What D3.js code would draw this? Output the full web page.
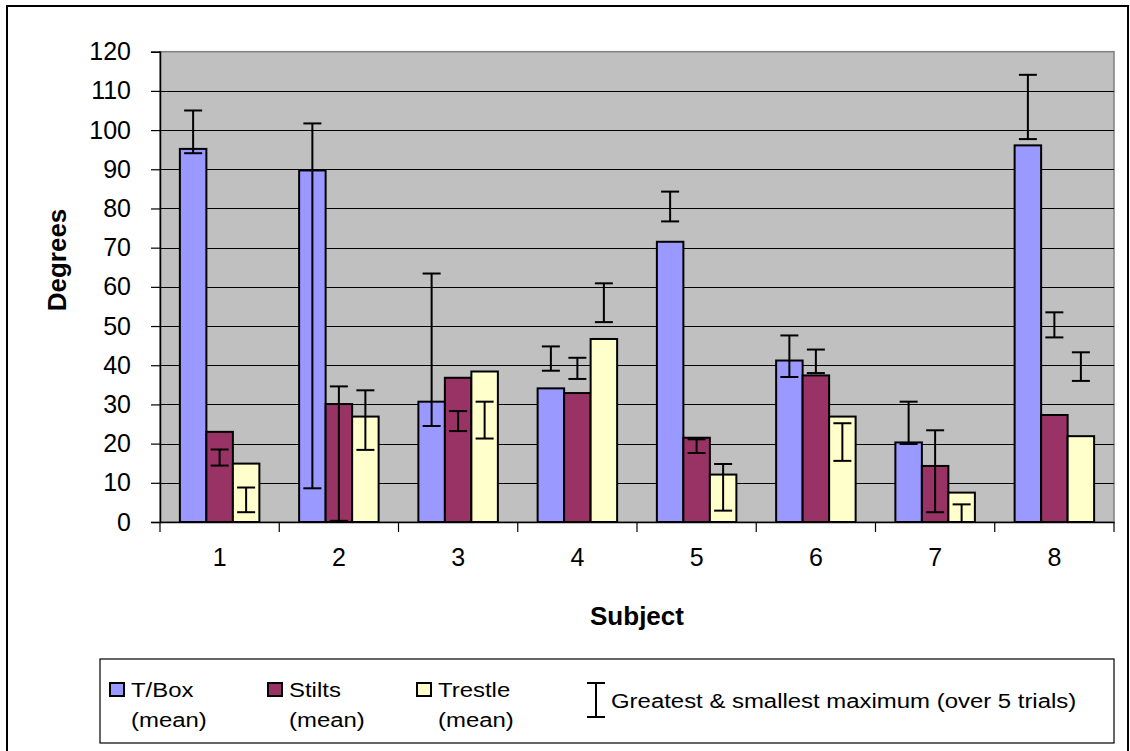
<!DOCTYPE html>
<html><head><meta charset="utf-8">
<script src="https://cdn.jsdelivr.net/npm/d3@7"></script>
<style>
body{margin:0;background:#fff;}
text{font-family:Arial,"Liberation Sans",sans-serif;fill:#000;}
</style>
</head><body>
<svg id="chart" width="1130" height="751"></svg>
<script>
// ---- data ----
const categories = ["1","2","3","4","5","6","7","8"];
const seriesNames = ["T/Box","Stilts","Trestle"];
const tboxMean    = [95.2, 89.7, 30.7, 34.1, 71.5, 41.2, 20.3, 96.1];
const stiltsMean  = [23.0, 30.1, 36.8, 32.9, 21.5, 37.4, 14.3, 27.3];
const trestleMean = [14.9, 26.9, 38.4, 46.7, 12.1, 26.9,  7.5, 21.9];
const tboxHigh    = [105.0,101.7, 63.4, 44.8, 84.3, 47.6, 30.7,114.1];
const tboxLow     = [ 94.1,  8.6, 24.5, 38.6, 76.7, 37.0, 19.9, 97.7];
const stiltsHigh  = [ 18.5, 34.6, 28.3, 41.9, 21.1, 44.0, 23.4, 53.5];
const stiltsLow   = [ 14.4,  0.3, 23.2, 36.5, 17.6, 38.0,  2.5, 47.1];
const trestleHigh = [  8.8, 33.6, 30.7, 60.9, 14.8, 25.2,  4.5, 43.3];
const trestleLow  = [  2.5, 18.4, 21.3, 51.0,  2.9, 15.6,  0.0, 36.0];
const yTickValues = [0,10,20,30,40,50,60,70,80,90,100,110,120];
const legendLine1 = ["T/Box","Stilts","Trestle"];
const legendLine2 = ["(mean)","(mean)","(mean)"];
const errorLegendLabel = "Greatest & smallest maximum (over 5 trials)";
const xTitle = "Subject";
const yTitle = "Degrees";

// ---- styling ----
const colors = ["#9999FF","#993366","#FFFFCC"];
const series = [
  {name:seriesNames[0], mean:tboxMean, hi:tboxHigh, lo:tboxLow},
  {name:seriesNames[1], mean:stiltsMean, hi:stiltsHigh, lo:stiltsLow},
  {name:seriesNames[2], mean:trestleMean, hi:trestleHigh, lo:trestleLow}
];

const svg = d3.select("#chart");
const plot = {left:160, right:1114, top:51.7, bottom:522};

// outer border
svg.append("rect").attr("x",7).attr("y",6).attr("width",1121).attr("height",760)
  .attr("fill","#fff").attr("stroke","#000").attr("stroke-width",2);

const x0 = d3.scaleBand().domain(categories).range([plot.left, plot.right]).padding(0);
const x1 = d3.scaleBand().domain(seriesNames).range([0, x0.bandwidth()]).paddingInner(0).paddingOuter(0.75);
const y = d3.scaleLinear().domain([0,120]).range([plot.bottom, plot.top]);

// plot area
svg.append("rect").attr("x",plot.left).attr("y",plot.top)
  .attr("width",plot.right-plot.left).attr("height",plot.bottom-plot.top)
  .attr("fill","#C0C0C0").attr("stroke","#808080").attr("stroke-width",1.5);

// gridlines
svg.append("g").selectAll("line").data(yTickValues.filter(v=>v>0 && v<120)).join("line")
  .attr("x1",plot.left).attr("x2",plot.right)
  .attr("y1",d=>Math.round(y(d))+0.5).attr("y2",d=>Math.round(y(d))+0.5)
  .attr("stroke","#000").attr("stroke-width",1);

// y axis
const yAxis = svg.append("g").attr("transform",`translate(${plot.left},0)`)
  .call(d3.axisLeft(y).tickValues(yTickValues).tickSize(9).tickPadding(20).tickFormat(d3.format("d")));
yAxis.select(".domain").attr("stroke","#000").attr("stroke-width",1.5);
yAxis.selectAll(".tick line").attr("stroke","#000").attr("stroke-width",1.2);
yAxis.selectAll("text").style("font-size","25px").style("font-family","Arial, 'Liberation Sans', sans-serif");

// x axis
const xAxis = svg.append("g").attr("transform",`translate(0,${plot.bottom})`)
  .call(d3.axisBottom(x0).tickSize(0).tickPadding(26));
xAxis.select(".domain").attr("stroke","#000").attr("stroke-width",1.5);
xAxis.selectAll("text").style("font-size","25px").style("font-family","Arial, 'Liberation Sans', sans-serif");
// boundary ticks
const bounds = categories.map(c=>x0(c)).concat([x0(categories[categories.length-1])+x0.bandwidth()]);
svg.append("g").selectAll("line").data(bounds).join("line")
  .attr("x1",d=>d).attr("x2",d=>d).attr("y1",plot.bottom).attr("y2",plot.bottom+10)
  .attr("stroke","#000").attr("stroke-width",1.2);

// bars
const groups = svg.append("g").selectAll("g").data(series).join("g");
groups.selectAll("rect").data((s,si)=>s.mean.map((v,i)=>({v,i,si,name:s.name}))).join("rect")
  .attr("x",d=>x0(categories[d.i])+x1(d.name))
  .attr("width",x1.bandwidth())
  .attr("y",d=>y(d.v))
  .attr("height",d=>y(0)-y(d.v))
  .attr("fill",d=>colors[d.si])
  .attr("stroke","#000").attr("stroke-width",2);

// error bars
const capW = 18;
const eg = svg.append("g").attr("stroke","#000").attr("stroke-width",2);
series.forEach((s,si)=>{
  s.mean.forEach((v,i)=>{
    const cx = x0(categories[i])+x1(s.name)+x1.bandwidth()/2;
    const yh = y(s.hi[i]), yl = y(s.lo[i]);
    eg.append("line").attr("x1",cx).attr("x2",cx).attr("y1",yh).attr("y2",yl);
    eg.append("line").attr("x1",cx-capW/2).attr("x2",cx+capW/2).attr("y1",yh).attr("y2",yh);
    eg.append("line").attr("x1",cx-capW/2).attr("x2",cx+capW/2).attr("y1",yl).attr("y2",yl);
  });
});

// axis titles
svg.append("text").attr("x",(plot.left+plot.right)/2).attr("y",625)
  .attr("text-anchor","middle").style("font-size","26px").style("font-weight","bold").text(xTitle);
svg.append("text").attr("transform",`translate(66,260) rotate(-90)`)
  .attr("text-anchor","middle").style("font-size","26px").style("font-weight","bold").text(yTitle);

// legend
svg.append("rect").attr("x",100).attr("y",659).attr("width",1014).attr("height",84)
  .attr("fill","#fff").attr("stroke","#000").attr("stroke-width",1.2);
const legX = [110,268,417];
legendLine1.forEach((t,i)=>{
  svg.append("rect").attr("x",legX[i]).attr("y",683).attr("width",14).attr("height",13)
    .attr("fill",colors[i]).attr("stroke","#000").attr("stroke-width",2);
  const g = svg.append("g").attr("transform",`translate(${legX[i]+21},0) scale(1.14,1)`);
  g.append("text").attr("x",0).attr("y",697).style("font-size","21px").text(t);
  g.append("text").attr("x",0).attr("y",727).style("font-size","21px").text(legendLine2[i]);
});
const ex = 596;
const lg = svg.append("g").attr("stroke","#000").attr("stroke-width",2);
lg.append("line").attr("x1",ex).attr("x2",ex).attr("y1",683).attr("y2",717);
lg.append("line").attr("x1",ex-9).attr("x2",ex+9).attr("y1",683).attr("y2",683);
lg.append("line").attr("x1",ex-9).attr("x2",ex+9).attr("y1",717).attr("y2",717);
svg.append("g").attr("transform",`translate(611,0) scale(1.14,1)`)
  .append("text").attr("x",0).attr("y",708).style("font-size","21px").text(errorLegendLabel);
</script>
</body></html>
